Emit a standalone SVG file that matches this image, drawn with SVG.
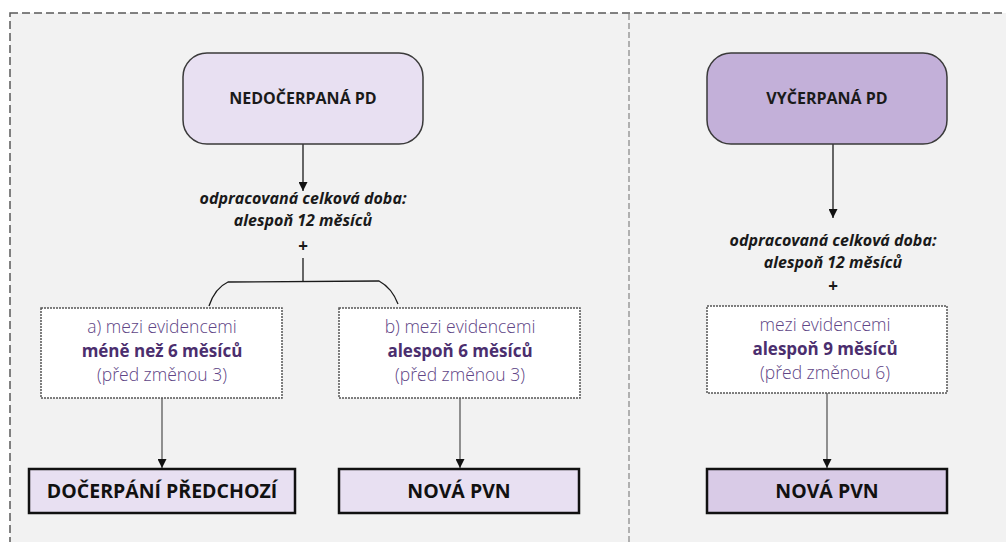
<svg xmlns="http://www.w3.org/2000/svg" width="1006" height="542" viewBox="0 0 1006 542">
<defs>
<style>
.panel{fill:#f2f2f2;stroke:none}
.outer{fill:none;stroke:#595959;stroke-width:1.5;stroke-dasharray:8 4}
.divider{fill:none;stroke:#9a9a9a;stroke-width:1.5;stroke-dasharray:6 3}
.start{stroke:#3a3a3a;stroke-width:1.5}
.title{font-family:"Open Sans","Noto Sans","Liberation Sans",sans-serif;font-weight:700;font-size:16px;fill:#1a1a1a;text-anchor:middle}
.cond{font-family:"Open Sans","Noto Sans","Liberation Sans",sans-serif;font-weight:700;font-style:italic;font-size:16px;fill:#1a1a1a;text-anchor:middle}
.plus{font-family:"Open Sans","Noto Sans","Liberation Sans",sans-serif;font-weight:700;font-size:17px;fill:#1a1a1a;text-anchor:middle}
.dbox{fill:#ffffff;stroke:#555555;stroke-width:1.5;stroke-dasharray:2 1}
.lt{font-family:"Open Sans","Noto Sans","Liberation Sans",sans-serif;font-weight:350;font-size:17.5px;fill:#604586;text-anchor:middle}
.bd{font-family:"Open Sans","Noto Sans","Liberation Sans",sans-serif;font-weight:700;font-size:17px;fill:#4b2e6e;text-anchor:middle}
.res{stroke:#111111;stroke-width:2.5}
.rt{font-family:"Open Sans","Noto Sans","Liberation Sans",sans-serif;font-weight:700;font-size:19.5px;fill:#111111;text-anchor:middle}
.c1{fill:none;stroke:#1a1a1a;stroke-width:1.3}
.c2{fill:none;stroke:#5a5a5a;stroke-width:1.3}
</style>
<marker id="ah" viewBox="0 0 10 10" refX="10" refY="5" markerWidth="9" markerHeight="9" markerUnits="userSpaceOnUse" orient="auto">
<path d="M0,0 L10,5 L0,10 z" fill="#111111"/>
</marker>
</defs>

<g id="background">
<rect class="panel" x="10" y="13" width="1010" height="540"/>
<rect class="outer" x="10" y="13" width="1010" height="540"/>
<line class="divider" x1="629" y1="14" x2="629" y2="542"/>
</g>

<g id="connectors">
<line class="c1" x1="303" y1="144" x2="303" y2="191" marker-end="url(#ah)"/>
<line class="c1" x1="303" y1="258" x2="303" y2="282"/>
<path class="c1" d="M209,306 Q215,288 228,282 L379,281 Q392,288 398,304"/>
<line class="c2" x1="162" y1="398" x2="162" y2="468" marker-end="url(#ah)"/>
<line class="c2" x1="460" y1="398" x2="460" y2="468" marker-end="url(#ah)"/>
<line class="c1" x1="833" y1="144" x2="833" y2="218" marker-end="url(#ah)"/>
<line class="c2" x1="827" y1="393" x2="827" y2="468" marker-end="url(#ah)"/>
</g>

<g id="node-nedocerpana">
<rect class="start" x="183" y="53" width="240" height="91" rx="24" fill="#e8e0f2"/>
<text class="title" x="303" y="104">NEDOČERPANÁ PD</text>
</g>

<g id="cond-left">
<text class="cond" x="303" y="204">odpracovaná celková doba:</text>
<text class="cond" x="303" y="226">alespoň 12 měsíců</text>
<text class="plus" x="303" y="252">+</text>
</g>

<g id="box-a">
<rect class="dbox" x="41" y="308" width="241" height="90"/>
<text class="lt" x="162" y="333">a) mezi evidencemi</text>
<text class="bd" x="162" y="357">méně než 6 měsíců</text>
<text class="lt" x="162" y="381">(před změnou 3)</text>
</g>

<g id="box-b">
<rect class="dbox" x="339" y="308" width="241" height="90"/>
<text class="lt" x="460" y="333">b) mezi evidencemi</text>
<text class="bd" x="460" y="357">alespoň 6 měsíců</text>
<text class="lt" x="460" y="381">(před změnou 3)</text>
</g>

<g id="res-docerpani">
<rect class="res" x="29" y="469" width="266" height="44" fill="#e8e0f2"/>
<text class="rt" x="162" y="498">DOČERPÁNÍ PŘEDCHOZÍ</text>
</g>

<g id="res-nova-left">
<rect class="res" x="339" y="469" width="240" height="44" fill="#e8e0f2"/>
<text class="rt" x="459" y="498">NOVÁ PVN</text>
</g>

<g id="node-vycerpana">
<rect class="start" x="707" y="53" width="240" height="91" rx="24" fill="#c3b0d9"/>
<text class="title" x="827" y="104">VYČERPANÁ PD</text>
</g>

<g id="cond-right">
<text class="cond" x="833" y="246">odpracovaná celková doba:</text>
<text class="cond" x="833" y="268">alespoň 12 měsíců</text>
<text class="plus" x="833" y="292">+</text>
</g>

<g id="box-c">
<rect class="dbox" x="707" y="306" width="240" height="87"/>
<text class="lt" x="825" y="331">mezi evidencemi</text>
<text class="bd" x="825" y="355">alespoň 9 měsíců</text>
<text class="lt" x="825" y="379">(před změnou 6)</text>
</g>

<g id="res-nova-right">
<rect class="res" x="707" y="469" width="240" height="44" fill="#d9cbe7"/>
<text class="rt" x="827" y="498">NOVÁ PVN</text>
</g>
</svg>
